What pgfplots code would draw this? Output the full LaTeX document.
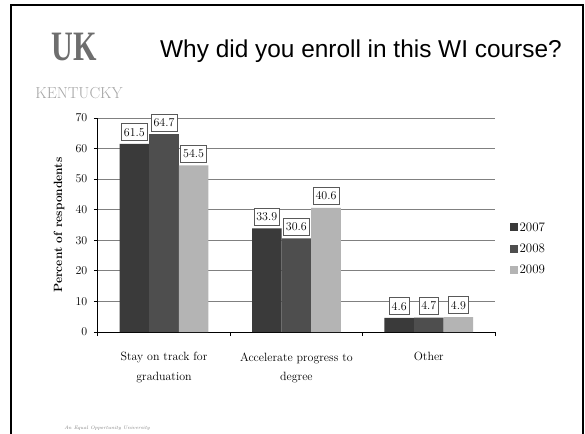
\documentclass[border=0pt]{standalone}
\usepackage{pgfplots}
\pgfplotsset{compat=1.18}
\usepackage{fontspec}
\newfontfamily\arialfont{Liberation Sans}
\newfontfamily\timesfont{Liberation Serif}
\definecolor{c07}{HTML}{3A3A3A}
\definecolor{c08}{HTML}{4E4E4E}
\definecolor{c09}{HTML}{B4B4B4}
\definecolor{gridc}{HTML}{808080}
\definecolor{logoc}{HTML}{6E6E6E}
\begin{document}
\begin{tikzpicture}
\useasboundingbox (0,0) rectangle (585bp,434bp);
\fill[white] (0,0) rectangle (585bp,434bp);
\draw[line width=2.5bp, black] (11bp,0) -- (11bp,429bp) -- (583bp,429bp) -- (583bp,0);
\node[text=logoc, inner sep=0] at (74bp,387bp) {\scalebox{0.72}[1]{\timesfont\fontsize{42}{42}\selectfont\bfseries UK}};
\node[text=gray!70, inner sep=0] at (79bp,341bp) {\fontsize{16}{16}\selectfont KENTUCKY};
\node[anchor=base west, inner sep=0] at (160bp,376bp) {\arialfont\fontsize{24.5}{24.5}\selectfont Why did you enroll in this WI course?};
\node[text=gray, inner sep=0] at (107bp,6bp) {\fontsize{5}{5}\selectfont\itshape An Equal Opportunity University};
\begin{axis}[
  at={(97.8bp,102bp)}, anchor=south west,
  width=397.2bp, height=214bp, scale only axis,
  xmin=-0.5, xmax=2.5, ymin=0, ymax=70,
  ybar=0pt, bar width=29.6bp,
  axis x line=bottom, axis y line=left,
  axis line style={-, black, line width=0.8bp},
  xtick={0,1,2},
  xticklabels={{Stay on track for\\graduation},{Accelerate progress to\\degree},{Other}},
  minor xtick={-0.5,0.5,1.5,2.5},
  major x tick style={draw=none},
  ytick={0,10,...,70},
  tick align=outside, major tick length=4bp, minor tick length=4bp,
  tick style={black, line width=0.8bp},
  ymajorgrids, grid style={gridc, line width=0.8bp},
  /pgf/number format/assume math mode=true,
  yticklabel style={font=\fontsize{12}{12}\selectfont, xshift=-3bp},
  xticklabel style={font=\fontsize{12}{20}\selectfont, align=center, yshift=-13bp},
  ylabel={Percent of respondents},
  ylabel style={at={(axis description cs:-0.0977,0.5)}, anchor=center, font=\fontsize{12}{12}\selectfont\bfseries},
  clip=false,
  nodes near coords={\pgfmathprintnumber[fixed,fixed zerofill,precision=1,assume math mode=true]{\pgfplotspointmeta}},
  every node near coord/.append style={font=\fontsize{12}{12}\selectfont, draw=gray!70!black, fill=white, line width=0.6bp, inner xsep=2.5bp, inner ysep=0bp, minimum height=17bp, anchor=south, yshift=3bp},
  legend style={at={(axis description cs:1.03,0.39)}, anchor=west, draw=none, fill=none, font=\fontsize{13}{13}\selectfont, row sep=8bp, nodes={inner sep=1.5bp}},
  legend cell align=left,
]
\addplot[fill=c07, draw=none, legend image code/.code={\fill[c07] (0bp,-4bp) rectangle (8bp,4bp);}] coordinates {(0,61.5) (1,33.9) (2,4.6)};
\addplot[fill=c08, draw=none, legend image code/.code={\fill[c08] (0bp,-4bp) rectangle (8bp,4bp);}] coordinates {(0,64.7) (1,30.6) (2,4.7)};
\addplot[fill=c09, draw=none, legend image code/.code={\fill[c09] (0bp,-4bp) rectangle (8bp,4bp);}] coordinates {(0,54.5) (1,40.6) (2,4.9)};
\legend{2007,2008,2009}
\end{axis}
\end{tikzpicture}
\end{document}
